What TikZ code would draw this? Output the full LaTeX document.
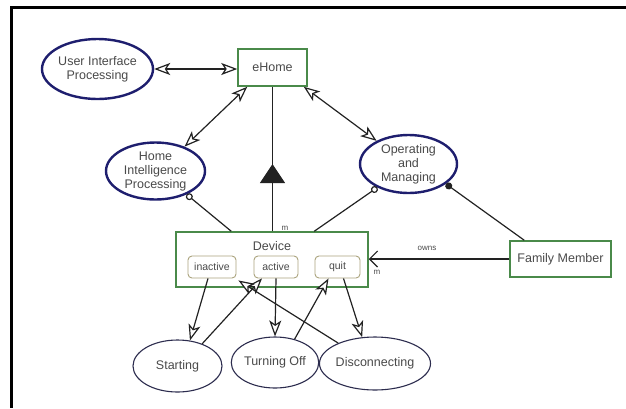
\documentclass[tikz,border=0pt]{standalone}
\usepackage{fontspec}
\setmainfont{Liberation Sans}
\usetikzlibrary{arrows.meta,calc,decorations.markings,shapes.geometric}

\definecolor{navy}{HTML}{1E1E6E}
\definecolor{statecol}{HTML}{2C2C4E}
\definecolor{boxgreen}{HTML}{4A8A4A}
\definecolor{innerbox}{HTML}{ABA47E}
\definecolor{txt}{HTML}{4A4A4A}
\definecolor{linecol}{HTML}{222222}

\tikzset{
  lbl/.style={text=txt, font=\fontsize{12.5}{14}\selectfont, align=center, inner sep=0pt},
  usecase/.style={lbl, ellipse, draw=navy, line width=2.4pt, fill=white},
  statenode/.style={lbl, ellipse, draw=statecol, line width=1.1pt, fill=white},
  classbox/.style={lbl, rectangle, draw=boxgreen, line width=1.5pt, fill=white},
  statebox/.style={lbl, rectangle, rounded corners=4pt, draw=innerbox, line width=0.9pt,
    font=\fontsize{10.5}{12}\selectfont, minimum height=22pt},
  conn/.style={draw=linecol, line width=1.2pt},
  umlhead/.tip={Stealth[open, length=16pt, width=12pt, inset=4pt, fill=white, line width=1.2pt]},
  opentip/.style={conn, -umlhead},
  bothtips/.style={conn, umlhead-umlhead},
  smalllbl/.style={text=txt, font=\fontsize{8}{9}\selectfont, inner sep=0pt}
}

\begin{document}
\begin{tikzpicture}[x=1pt, y=-1pt]
\useasboundingbox (0,0) rectangle (626,408);

% frame lines
\draw[line width=3pt] (626,7) -- (11,7) -- (11,408);

% use cases
\node[usecase, minimum width=109pt, minimum height=60pt] (uip) at (97.5,69) {User Interface\\Processing};
\node[usecase, minimum width=99pt, minimum height=57pt] (hip) at (155.5,171) {Home\\Intelligence\\Processing};
\node[usecase, minimum width=97pt, minimum height=58pt] (om) at (408.5,164) {Operating\\and\\Managing};

% classes
\node[classbox, minimum width=69pt, minimum height=37pt] (ehome) at (272.5,67.5) {eHome};
\node[classbox, minimum width=192pt, minimum height=55pt] (device) at (272,259.5) {};
\node[lbl, anchor=center] (devlabel) at (272,246) {Device};
\node[classbox, minimum width=101pt, minimum height=36pt] (fm) at (560.5,259) {Family Member};

% device states
\node[statebox, minimum width=48pt] (inactive) at (212,267) {inactive};
\node[statebox, minimum width=44pt] (active) at (276,267) {active};
\node[statebox, minimum width=45pt] (quit) at (337.5,267) {quit};

% activities
\node[statenode, minimum width=89pt, minimum height=52pt] (starting) at (177.5,366) {Starting};
\node[statenode, minimum width=86pt, minimum height=51pt] (turnoff) at (275,362.5) {Turning Off};
\node[statenode, minimum width=84pt, minimum height=53pt, inner sep=0pt] (disc) at (375,363.5) {Disconnecting};

% associations with eHome
\draw[bothtips] (uip.east) -- (ehome.west |- uip.east);
\draw[bothtips] ($(ehome.south west)+(10,0)$) -- (hip.40);
\draw[bothtips] ($(ehome.south east)+(-4,0)$) -- (om.144);

% aggregation line with the filled triangle
\draw[conn, postaction={decorate, decoration={markings,
    mark=at position 0.465 with {\arrow{Triangle[length=19pt, width=25pt]}}}}]
  (device.north -| ehome.south) -- (ehome.south);
\node[smalllbl] (mtop) at (285,228) {m};

% use case links to Device
\draw[conn, {Circle[open, length=7pt, fill=white]}-] (hip.-37) -- ($(device.north west)+(56,0)$);
\draw[conn, {Circle[open, length=7pt, fill=white]}-] (om.-143) -- ($(device.north west)+(139,0)$);
\draw[conn, {Circle[length=7pt]}-] (om.-28) -- ($(fm.north west)+(15,0)$);

% owns
\draw[conn, -{Straight Barb[length=8pt, width=16pt]}] (fm.west) -- (device.east |- fm.west);
\node[smalllbl] (owns) at (427,248) {owns};
\node[smalllbl] (mright) at (377,272) {m};

% state transitions
\draw[opentip] ($(inactive.south)+(-4,0)$) -- (starting.64);
\draw[opentip] (starting.42) -- ($(active.south)+(-14,0)$);
\draw[opentip] (active.south) -- (turnoff.north);
\draw[opentip] (turnoff.50) -- ($(quit.south)+(-9,0)$);
\draw[opentip] ($(quit.south)+(6,0)$) -- (disc.116);
\draw[opentip] (disc.151) -- ($(inactive.south east)+(2,2)$);
\end{tikzpicture}
\end{document}
